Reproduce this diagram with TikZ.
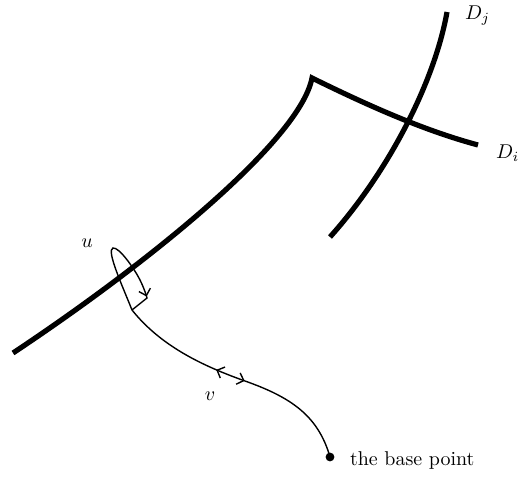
\documentclass[tikz,border=0pt]{standalone}
\usepackage{amsmath,amssymb}
\usetikzlibrary{arrows.meta,calc,decorations.markings}

\tikzset{
  divisor/.style={line width=2.6pt},
  pathline/.style={line width=0.7pt},
  fwd/.style={postaction={decorate,decoration={markings,mark=at position #1 with {\arrow{Straight Barb[length=3pt,width=6pt]}}}}},
  bwd/.style={postaction={decorate,decoration={markings,mark=at position #1 with {\arrowreversed{Straight Barb[length=3pt,width=6pt]}}}}}
}

\begin{document}
\begin{tikzpicture}[x=0.0176cm,y=-0.0176cm]
  \useasboundingbox (0,0) rectangle (519,478);
  % the two divisors
  \coordinate (Di0) at (13,353);
  \coordinate (Dcorner) at (312,78);
  \coordinate (Di1) at (478,145);
  \coordinate (Dj0) at (447,12);
  \coordinate (Dj1) at (330,237);
  \draw[divisor] (Di0) .. controls (150,262) and (300,140) .. (Dcorner)
    .. controls (365,104) and (422,130) .. (Di1);
  \draw[divisor] (Dj0) .. controls (435,80) and (390,170) .. (Dj1);
  \node[anchor=west] (Dj) at (458,16) {$D_j$};
  \node[anchor=west] (Di) at (489,153) {$D_i$};
  % loop u and path v
  \coordinate (start) at (132,310);
  \coordinate (base) at (330,457);
  \draw[pathline,fwd=0.86] (start) .. controls (122,285) and (106,250) .. (113,248)
    .. controls (119,247) and (134,268) .. (140,280)
    .. controls (145,290) and (147,298) .. (147,298) -- (start);
  \draw[pathline,bwd=0.41,fwd=0.53] (start) .. controls (160,345) and (200,365) .. (245,381)
    .. controls (290,397) and (318,415) .. (base);
  \fill (base) circle (2.2pt);
  \node (u) at (87,243) {$u$};
  \node (v) at (210,396) {$v$};
  \node[anchor=west] (bp) at (343,461) {the base point};
\end{tikzpicture}
\end{document}
